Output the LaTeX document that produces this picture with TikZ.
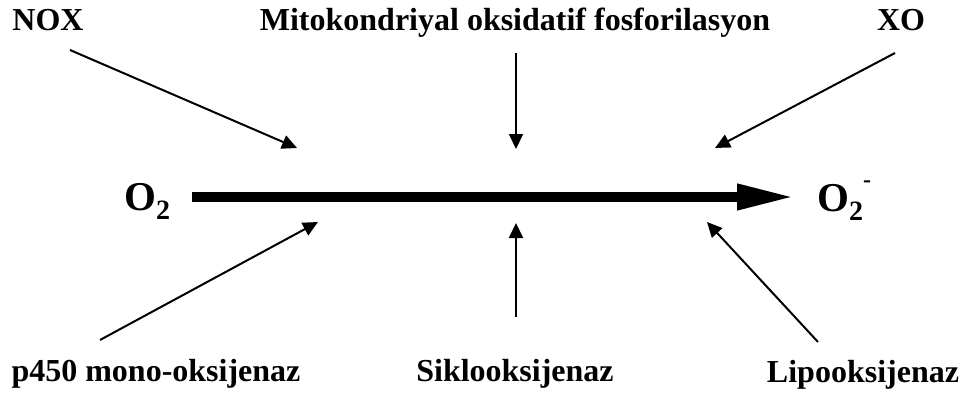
\documentclass[tikz,border=0pt]{standalone}
\usepackage{fontspec}
\setmainfont{Liberation Serif}
\usetikzlibrary{arrows.meta}
\begin{document}
\begin{tikzpicture}[x=1pt,y=-1pt,
  lbl/.style={font=\fontsize{32}{32}\selectfont\bfseries, inner sep=0pt, anchor=base},
  big/.style={font=\fontsize{41}{41}\selectfont\bfseries, inner sep=0pt, anchor=base west},
  thin/.style={line width=2pt, -{Triangle[length=15pt,width=14pt]}},
  thick/.style={line width=10pt, -{Triangle[length=58pt,width=24pt]}}]
\useasboundingbox (0,0) rectangle (969,396);
\node[lbl] (nox) at (48,31) {NOX};
\node[lbl] (mito) at (515,31) {Mitokondriyal oksidatif fosforilasyon};
\node[lbl] (xo) at (901,31) {XO};
\node[lbl] (p450) at (156,381) {p450 mono-oksijenaz};
\node[lbl] (siklo) at (515,381) {Siklooksijenaz};
\node[lbl] (lipo) at (863,382) {Lipooksijenaz};
\node[big] (o2l) at (124,210) {O\raisebox{-0.22em}{\fontsize{28}{28}\selectfont 2}};
\node[big] (o2r) at (817,211) {O\raisebox{-0.22em}{\fontsize{28}{28}\selectfont 2}\raisebox{0.58em}{\fontsize{24}{24}\selectfont -}};
\coordinate (s1) at (70,50);   \coordinate (t1) at (297,148);
\coordinate (s2) at (516,53);  \coordinate (t2) at (516,149);
\coordinate (s3) at (895,53);  \coordinate (t3) at (715,148);
\coordinate (s4) at (100,340); \coordinate (t4) at (318,222);
\coordinate (s5) at (516,317); \coordinate (t5) at (516,223);
\coordinate (s6) at (818,342); \coordinate (t6) at (707,222);
\coordinate (a0) at (192,197);
\coordinate (a1) at (795,197);
\draw[thin] (s1) -- (t1);
\draw[thin] (s2) -- (t2);
\draw[thin] (s3) -- (t3);
\draw[thin] (s4) -- (t4);
\draw[thin] (s5) -- (t5);
\draw[thin] (s6) -- (t6);
\draw[thick] (a0) -- (a1);
\end{tikzpicture}
\end{document}
